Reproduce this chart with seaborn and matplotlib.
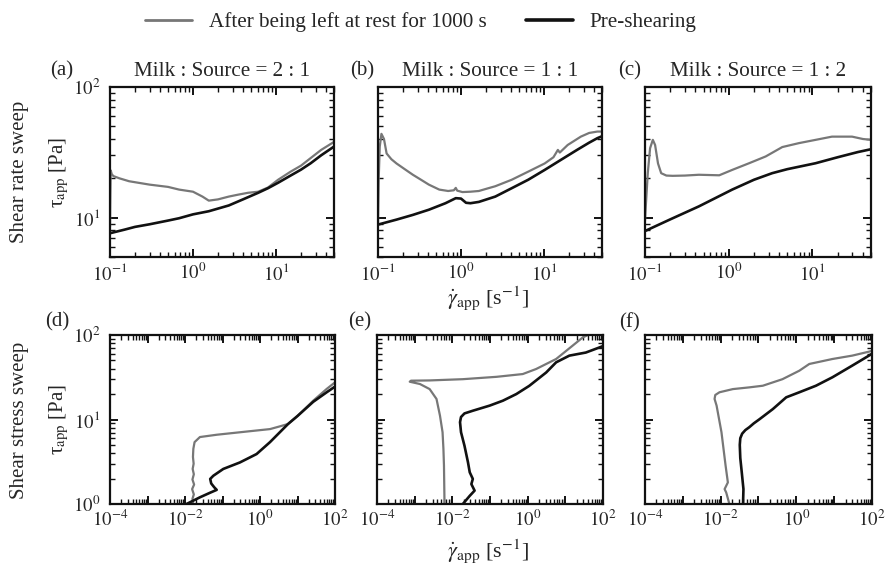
import numpy as np
import pandas as pd
import matplotlib
matplotlib.use("Agg")
import matplotlib.pyplot as plt
import matplotlib.ticker as mticker
from matplotlib.lines import Line2D
import seaborn as sns

# ---------------- data ----------------
titles = ["Milk : Source = 2 : 1", "Milk : Source = 1 : 1", "Milk : Source = 1 : 2"]
letters_top = ["(a)", "(b)", "(c)"]
letters_bot = ["(d)", "(e)", "(f)"]
legend_labels = ["After being left at rest for 1000 s", "Pre-shearing"]
row_labels = ["Shear rate sweep", "Shear stress sweep"]

# shear rate sweep (top row)
a_gray_x = [0.100, 0.101, 0.102, 0.105, 0.11, 0.13, 0.17, 0.3, 0.5, 0.68, 1.0, 1.3, 1.55, 2.0, 2.7, 3.5, 4.6, 6.1, 8, 10.6, 15, 20, 26.2, 35, 50]
a_gray_y = [8.5, 15, 23, 21.5, 20.8, 20.0, 19.0, 17.9, 17.2, 16.4, 15.8, 14.5, 13.5, 13.8, 14.5, 15.0, 15.5, 15.8, 17.0, 19.5, 22.5, 25, 28.6, 33, 38]
a_black_x = [0.1, 0.15, 0.2, 0.3, 0.5, 0.68, 1.0, 1.55, 2.7, 4, 6.1, 8, 10.6, 15, 20, 26.2, 35, 50]
a_black_y = [7.6, 8.1, 8.5, 8.9, 9.5, 9.9, 10.6, 11.2, 12.4, 13.8, 15.5, 16.8, 18.5, 21.0, 23.3, 26.1, 30, 35]

b_gray_x = [0.100, 0.102, 0.105, 0.11, 0.118, 0.127, 0.145, 0.167, 0.21, 0.263, 0.33, 0.41, 0.547, 0.7, 0.82, 0.865, 0.9, 1.04, 1.3, 1.64, 2.0, 2.59, 4.08, 6.45, 10.2, 13, 14.7, 15.5, 19.3, 27.8, 35, 44, 50]
b_gray_y = [9, 20, 35, 43.8, 40, 31, 28, 26, 23.5, 21.3, 19.5, 17.9, 16.4, 16.0, 16.2, 16.9, 16.1, 15.7, 15.8, 16.0, 16.6, 17.4, 19.5, 22.5, 26, 29, 33, 31.5, 36, 41.7, 44.5, 45.6, 45.6]
b_black_x = [0.1, 0.167, 0.263, 0.41, 0.65, 0.865, 1.0, 1.15, 1.3, 1.64, 2.59, 4.08, 6.45, 10.2, 16, 25, 35, 44, 50]
b_black_y = [8.85, 9.66, 10.5, 11.5, 12.9, 14.1, 14.0, 13.0, 12.9, 13.2, 14.5, 16.8, 19.5, 23.2, 27.7, 33, 37.5, 40.6, 42]

c_gray_x = [0.100, 0.102, 0.108, 0.115, 0.124, 0.132, 0.143, 0.156, 0.18, 0.214, 0.3, 0.44, 0.77, 1.1, 1.75, 2.76, 4.36, 6.9, 10.9, 17.1, 29.7, 40, 50]
c_gray_y = [9.5, 12, 22, 34, 39.4, 36, 26, 21.9, 21.0, 20.9, 21.0, 21.3, 21.1, 23.2, 26.1, 29.4, 34.7, 37.2, 39.4, 41.7, 41.7, 40, 39.4]
c_black_x = [0.1, 0.2, 0.44, 1.1, 2.0, 3.3, 5, 10.9, 20, 35, 50]
c_black_y = [7.9, 9.7, 12.2, 16.4, 19.5, 21.9, 23.5, 26.1, 29.0, 31.8, 33.4]

# shear stress sweep (bottom row)
d_gray_x = [0.0165, 0.0158, 0.0172, 0.0155, 0.0175, 0.0158, 0.0172, 0.0160, 0.0170, 0.0163, 0.0167, 0.018, 0.025, 0.07, 0.44, 1.85, 3.4, 5.6, 10, 26.3, 60, 100]
d_gray_y = [1.0, 1.15, 1.3, 1.5, 1.7, 1.95, 2.25, 2.6, 3.0, 3.6, 4.5, 5.4, 6.2, 6.6, 7.2, 7.7, 8.3, 8.85, 11, 16.7, 23, 27.5]
d_black_x = [0.011, 0.025, 0.045, 0.07, 0.06, 0.05, 0.047, 0.057, 0.105, 0.29, 0.81, 1.85, 5.6, 10, 26.3, 60, 100]
d_black_y = [1.0, 1.2, 1.35, 1.47, 1.58, 1.75, 1.98, 2.16, 2.6, 3.1, 3.9, 5.4, 8.85, 11, 16.2, 21, 24.5]

e_gray_x = [0.0062, 0.0060, 0.0058, 0.0055, 0.0047, 0.0038, 0.0025, 0.00138, 0.00074, 0.0008, 0.0025, 0.019, 0.15, 0.74, 1.68, 5.7, 15.5, 29, 40]
e_gray_y = [1.0, 2.84, 4.5, 7.07, 11.1, 17.5, 22.9, 26.3, 28.0, 28.8, 29.0, 30.0, 32.0, 34.5, 39.6, 52, 74.6, 93.6, 100]
e_black_x = [0.019, 0.029, 0.039, 0.032, 0.035, 0.029, 0.026, 0.021, 0.017, 0.016, 0.017, 0.021, 0.035, 0.098, 0.22, 0.50, 1.1, 3.1, 5.7, 12.8, 35, 79, 100]
e_black_y = [1.0, 1.25, 1.44, 1.72, 1.98, 2.37, 3.12, 4.9, 7.07, 9.3, 10.7, 11.8, 12.7, 14.6, 16.7, 20, 25, 36, 47.5, 57, 62, 71, 74]

f_gray_x = [0.017, 0.014, 0.0127, 0.0155, 0.0135, 0.0105, 0.0078, 0.0069, 0.0072, 0.0093, 0.021, 0.057, 0.13, 0.43, 1.2, 2.2, 9, 30, 83, 100]
f_gray_y = [1.0, 1.37, 1.5, 1.8, 2.84, 7.07, 14.6, 17.5, 19.5, 21, 22.9, 24, 25.1, 30, 37.8, 45.4, 52, 57, 63.5, 65]
f_black_x = [0.039, 0.04, 0.036, 0.033, 0.032, 0.033, 0.037, 0.045, 0.057, 0.075, 0.107, 0.24, 0.54, 1.2, 3.3, 9, 30, 83, 100]
f_black_y = [1.0, 1.5, 2.4, 3.5, 5.0, 6.0, 6.8, 7.5, 8.1, 9.0, 10.1, 13.3, 18.3, 21, 25.1, 31.6, 43.4, 57, 60]

top_series = [(a_gray_x, a_gray_y, a_black_x, a_black_y),
              (b_gray_x, b_gray_y, b_black_x, b_black_y),
              (c_gray_x, c_gray_y, c_black_x, c_black_y)]
bot_series = [(d_gray_x, d_gray_y, d_black_x, d_black_y),
              (e_gray_x, e_gray_y, e_black_x, e_black_y),
              (f_gray_x, f_gray_y, f_black_x, f_black_y)]

# ---------------- style ----------------
sns.set_theme(style="ticks")
plt.rcParams["font.family"] = ["Liberation Serif", "DejaVu Serif"]
plt.rcParams["mathtext.fontset"] = "stix"
plt.rcParams["axes.linewidth"] = 1.6
FS = 13.5
GRAY = "#777777"
BLACK = "#111111"

W, H = 887, 565
fig = plt.figure(figsize=(W / 100, H / 100), dpi=100)


def ax_at(l, t, r, b):
    return fig.add_axes([l / W, 1 - b / H, (r - l) / W, (b - t) / H])


def style_axis(ax, xlim, ylim, xmaj, ylabels_on, xlabel_decades):
    ax.set_xscale("log")
    ax.set_yscale("log")
    ax.set_xlim(*xlim)
    ax.set_ylim(*ylim)
    ax.xaxis.set_major_locator(mticker.FixedLocator(xmaj))
    ax.xaxis.set_major_formatter(mticker.FuncFormatter(
        lambda v, p: (r"$10^{%d}$" % round(np.log10(v))) if round(np.log10(v)) in xlabel_decades else ""))
    ax.xaxis.set_minor_locator(mticker.LogLocator(base=10, subs=np.arange(2, 10), numticks=50))
    ax.xaxis.set_minor_formatter(mticker.NullFormatter())
    ax.yaxis.set_major_locator(mticker.LogLocator(base=10, numticks=20))
    ax.yaxis.set_minor_locator(mticker.LogLocator(base=10, subs=np.arange(2, 10), numticks=50))
    ax.yaxis.set_minor_formatter(mticker.NullFormatter())
    if ylabels_on:
        ax.yaxis.set_major_formatter(mticker.FuncFormatter(lambda v, p: r"$10^{%d}$" % round(np.log10(v))))
    else:
        ax.yaxis.set_major_formatter(mticker.NullFormatter())
    ax.tick_params(which="both", direction="in", top=True, right=True, labelsize=FS, color="#111111")
    ax.tick_params(which="major", length=6, width=1.4)
    ax.tick_params(axis="x", which="major", pad=4)
    ax.tick_params(axis="y", which="major", pad=7)
    ax.tick_params(which="minor", length=3.5, width=1.0)
    for s in ax.spines.values():
        s.set_color("#111111")
    ax.set_xlabel("")
    ax.set_ylabel("")


def draw(ax, gx, gy, bx, by):
    sns.lineplot(x=gx, y=gy, sort=False, estimator=None, color=GRAY, lw=1.6, ax=ax)
    sns.lineplot(x=bx, y=by, sort=False, estimator=None, color=BLACK, lw=1.9, ax=ax)


top_pos = [(110, 87, 334, 257), (378, 87, 602, 257), (645, 87, 871, 257)]
bot_pos = [(110, 335, 335, 504), (377, 335, 603, 504), (645, 335, 872, 504)]

ylab = r"τ$_{\mathrm{app}}$ [Pa]"
for i, (pos, ser) in enumerate(zip(top_pos, top_series)):
    ax = ax_at(*pos)
    draw(ax, *ser)
    style_axis(ax, (0.1, 50), (5, 100), [0.1, 1, 10], i == 0, {-1, 0, 1})
    ax.set_title(titles[i], fontsize=15.2, pad=8)
    if i == 0:
        ax.set_ylabel(ylab, fontsize=15, labelpad=1)

for i, (pos, ser) in enumerate(zip(bot_pos, bot_series)):
    ax = ax_at(*pos)
    draw(ax, *ser)
    style_axis(ax, (1e-4, 100), (1, 100), [10.0 ** k for k in range(-4, 3)], i == 0, {-4, -2, 0, 2})
    if i == 0:
        ax.set_ylabel(ylab, fontsize=15, labelpad=1)

# panel letters
for (x, y), s in zip([(62, 71), (362, 71), (630, 71), (57, 322), (360, 322), (630, 323)],
                     letters_top + letters_bot):
    fig.text(x / W, 1 - y / H, s, fontsize=15, ha="center", va="center")

# shared x labels
xl = r"$\dot{\gamma}_{\mathrm{app}}$ [s$^{-1}$]"
fig.text(488 / W, 1 - 298 / H, xl, fontsize=16, ha="center", va="center")
fig.text(488 / W, 1 - 551 / H, xl, fontsize=16, ha="center", va="center")

# row labels
fig.text(20 / W, 1 - 172 / H, row_labels[0], fontsize=15, rotation=90, ha="center", va="center")
fig.text(20 / W, 1 - 420 / H, row_labels[1], fontsize=15, rotation=90, ha="center", va="center")

# legend
handles = [Line2D([], [], color=GRAY, lw=2.0), Line2D([], [], color=BLACK, lw=2.6)]
fig.legend(handles, legend_labels, loc="center", bbox_to_anchor=(421 / W, 1 - 22 / H), ncol=2,
           frameon=False, fontsize=15.2, handlelength=2.2, columnspacing=1.9, handletextpad=0.8,
           borderpad=0.2)

fig.savefig("out.png", dpi=100)
